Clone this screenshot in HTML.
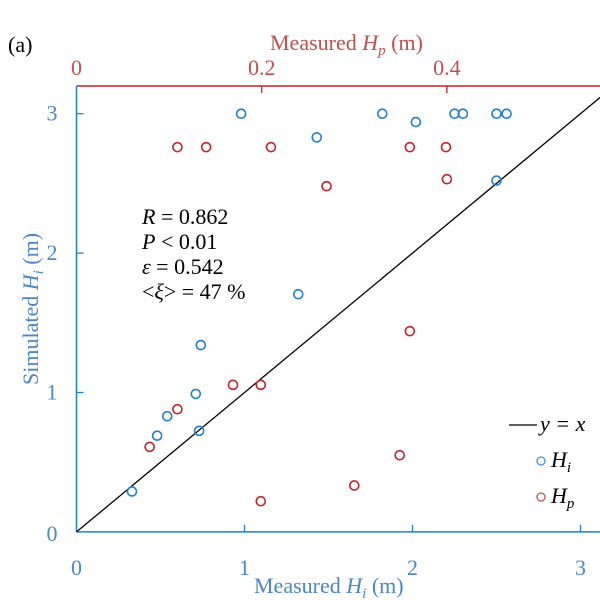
<!DOCTYPE html>
<html><head><meta charset="utf-8"><style>
html,body{margin:0;padding:0;background:#fff}
svg{display:block;font-family:"Liberation Serif",serif}
</style></head><body>
<svg id="chart" width="600" height="600" viewBox="0 0 600 600">
<g id="axes"></g>
<g id="marks"></g>
<text x="8" y="52" font-size="22" fill="#000">(a)</text>
<text x="270" y="50" font-size="22" fill="#c0504d">Measured <tspan font-style="italic">H</tspan><tspan font-style="italic" font-size="15" dy="5">p</tspan><tspan dy="-5"> (m)</tspan></text>
<text x="254" y="593" font-size="22" fill="#4a86c8">Measured <tspan font-style="italic">H</tspan><tspan font-style="italic" font-size="15" dy="5">i</tspan><tspan dy="-5"> (m)</tspan></text>
<text transform="translate(38,385) rotate(-90)" font-size="22" fill="#4a86c8">Simulated <tspan font-style="italic">H</tspan><tspan font-style="italic" font-size="15" dy="5">i</tspan><tspan dy="-5"> (m)</tspan></text>
<g font-size="22" fill="#000">
<text x="142" y="224"><tspan font-style="italic">R</tspan> = 0.862</text>
<text x="142" y="249"><tspan font-style="italic">P</tspan> &lt; 0.01</text>
<text x="142" y="274"><tspan font-style="italic">ε</tspan> = 0.542</text>
<text x="142" y="299">&lt;<tspan font-style="italic">ξ</tspan>&gt; = 47 %</text>
</g>
<g>
<line x1="509" y1="425" x2="537" y2="425" stroke="#000" stroke-width="1.3"/>
<text x="540" y="431" font-size="22" font-style="italic">y = x</text>
<circle cx="541" cy="461" r="4" fill="none" stroke="#4a90d0" stroke-width="1.3"/>
<text x="551" y="467" font-size="22" font-style="italic">H<tspan font-size="15" dy="5">i</tspan></text>
<circle cx="541" cy="497" r="4" fill="none" stroke="#c0504d" stroke-width="1.3"/>
<text x="551" y="503" font-size="22" font-style="italic">H<tspan font-size="15" dy="5">p</tspan></text>
</g>
</svg>
<script>
const hiX = [0.98,1.82,2.02,2.25,2.30,2.50,2.56,1.43,2.50,1.32,0.74,0.71,0.54,0.48,0.73,0.33];
const hiY = [3.0,3.0,2.94,3.0,3.0,3.0,3.0,2.83,2.52,1.705,1.34,0.99,0.83,0.69,0.725,0.29];
const hpX = [0.109,0.140,0.210,0.360,0.399,0.270,0.400,0.360,0.169,0.199,0.109,0.079,0.349,0.30,0.199];
const hpY = [2.76,2.76,2.76,2.76,2.76,2.48,2.53,1.44,1.055,1.055,0.88,0.61,0.55,0.333,0.22];
const bottomTicks = [0,1,2,3];
const topTicks = [0,0.2,0.4];
const leftTicks = [0,1,2,3];
const topLabels = ["0","0.2","0.4"];

const X0=76.5, Y0=531.9;
const xB = v => X0 + v*168;
const xT = v => X0 + v*926;
const yL = v => Y0 - v*139.4;
const NS="http://www.w3.org/2000/svg";
const axes=document.getElementById('axes'), marks=document.getElementById('marks');
function mk(tag, attrs, parent){const e=document.createElementNS(NS,tag);for(const k in attrs)e.setAttribute(k,attrs[k]);parent.appendChild(e);return e;}
const blue="#1f7fd0", red="#c8202a", blueT="#4a86c8", redT="#c0504d";

let e;
e=mk('line',{x1:X0,y1:86,x2:600,y2:86,stroke:red,'stroke-width':1.5},axes);
 
e=mk('line',{x1:X0,y1:86,x2:X0,y2:Y0,stroke:blue,'stroke-width':1.5},axes);
 
e=mk('line',{x1:X0,y1:Y0,x2:600,y2:Y0,stroke:blue,'stroke-width':1.5},axes);
 

bottomTicks.forEach(v=>{
  if(v>0){e=mk('line',{x1:xB(v),y1:Y0,x2:xB(v),y2:Y0-7,stroke:blue,'stroke-width':1.3},axes);
   }
  e=mk('text',{x:xB(v),y:575,'text-anchor':'middle','font-size':22,fill:blueT},axes); e.textContent=String(v);
   
});
topTicks.forEach((v,i)=>{
  if(v>0){e=mk('line',{x1:xT(v),y1:86,x2:xT(v),y2:93,stroke:red,'stroke-width':1.3},axes);
   }
  e=mk('text',{x:xT(v),y:75,'text-anchor':'middle','font-size':22,fill:redT},axes); e.textContent=topLabels[i];
   
});
leftTicks.forEach(v=>{
  if(v>0){e=mk('line',{x1:X0,y1:yL(v),x2:X0+7,y2:yL(v),stroke:blue,'stroke-width':1.3},axes);
   }
  e=mk('text',{x:52,y:yL(v)+7+(v===0?2:0),'text-anchor':'middle','font-size':22,fill:blueT},axes); e.textContent=String(v);
   
});

const xMax=(600-X0)/168;
e=mk('line',{x1:xB(0),y1:yL(0),x2:xB(xMax),y2:yL(xMax),stroke:'#000','stroke-width':1.3},marks);
 

hiX.forEach((v,i)=>{
  e=mk('circle',{cx:xB(v),cy:yL(hiY[i]),r:4.5,fill:'none',stroke:blue,'stroke-width':1.6},marks);
   
});
hpX.forEach((v,i)=>{
  e=mk('circle',{cx:xT(v),cy:yL(hpY[i]),r:4.5,fill:'none',stroke:red,'stroke-width':1.6},marks);
   
});
</script>
</body></html>
